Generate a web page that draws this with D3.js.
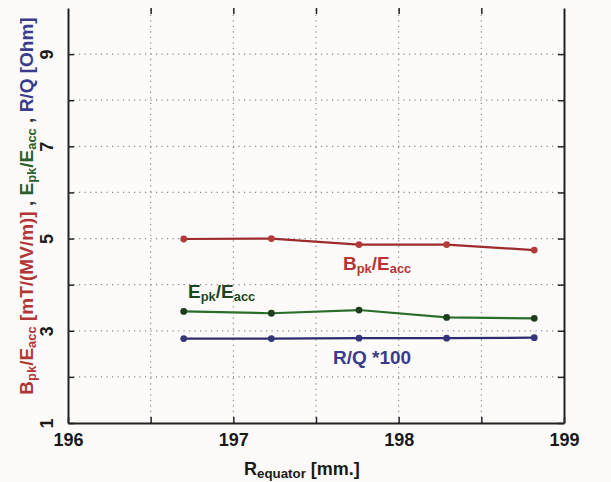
<!DOCTYPE html>
<html>
<head>
<meta charset="utf-8">
<script src="https://cdn.jsdelivr.net/npm/d3@7"></script>
<style>
  html, body { margin: 0; padding: 0; background: #fdfbfa; }
  svg { display: block; }
  text { font-family: "Liberation Sans", Arial, sans-serif; font-weight: bold; }
</style>
</head>
<body>
<svg id="chart" width="611" height="482"></svg>
<script>
// Equator radius (mm) for each simulated cavity geometry
const radius = [196.70, 197.23, 197.76, 198.29, 198.82];
// Peak magnetic field over accelerating gradient [mT/(MV/m)]
const bpkEacc = [4.99, 5.00, 4.87, 4.87, 4.75];
// Peak electric field over accelerating gradient
const epkEacc = [3.42, 3.38, 3.45, 3.29, 3.27];
// Shunt impedance R/Q, scaled by 1/100 [Ohm]
const rOverQ = [2.83, 2.83, 2.84, 2.84, 2.85];

const xTicks = [196, 196.5, 197, 197.5, 198, 198.5, 199];
const xTickLabels = ["196", "", "197", "", "198", "", "199"];
const yTicks = [1, 2, 3, 4, 5, 6, 7, 8, 9, 10];
const yTickLabels = ["1", "", "3", "", "5", "", "7", "", "9", ""];

const svg = d3.select("#chart");
const margin = { left: 68, right: 47, top: 8, bottom: 59 };
const W = 611, H = 482;

const x = d3.scaleLinear().domain([196, 199]).range([margin.left, W - margin.right]);
const y = d3.scaleLinear().domain([1, 10]).range([H - margin.bottom, margin.top]);

const gridColor = "#8a8a8a";

// dotted grid
svg.append("g").selectAll("line")
  .data(yTicks.filter(v => v > 1 && v < 10))
  .join("line")
  .attr("x1", x(196)).attr("x2", x(199))
  .attr("y1", d => y(d)).attr("y2", d => y(d))
  .attr("stroke", gridColor).attr("stroke-width", 1.2)
  .attr("stroke-dasharray", "1.2,4.3");

svg.append("g").selectAll("line")
  .data(xTicks.filter(v => v > 196 && v < 199))
  .join("line")
  .attr("x1", d => x(d)).attr("x2", d => x(d))
  .attr("y1", y(1)).attr("y2", y(10))
  .attr("stroke", gridColor).attr("stroke-width", 1.2)
  .attr("stroke-dasharray", "1.2,4.3");

// axes with inward ticks
const axisColor = "#222";
const gBottom = svg.append("g")
  .attr("transform", `translate(0,${y(1)})`)
  .call(d3.axisBottom(x).tickValues(xTicks).tickFormat((d, i) => xTickLabels[i])
    .tickSizeInner(-6).tickSizeOuter(0).tickPadding(10));
const gTop = svg.append("g")
  .attr("transform", `translate(0,${y(10)})`)
  .call(d3.axisTop(x).tickValues(xTicks.slice(1, -1)).tickFormat("")
    .tickSizeInner(-6).tickSizeOuter(0));
gTop.select(".domain").remove();
const gLeft = svg.append("g")
  .attr("transform", `translate(${x(196)},0)`)
  .call(d3.axisLeft(y).tickValues(yTicks.slice(0, -1)).tickFormat((d, i) => yTickLabels[i])
    .tickSizeInner(-6).tickSizeOuter(0).tickPadding(14));
const gRight = svg.append("g")
  .attr("transform", `translate(${x(199)},0)`)
  .call(d3.axisRight(y).tickValues(yTicks.slice(0, -1)).tickFormat("")
    .tickSizeInner(-6).tickSizeOuter(0));

[gBottom, gTop, gLeft, gRight].forEach(g => {
  g.selectAll(".domain").attr("stroke", axisColor).attr("stroke-width", 2);
  g.selectAll(".tick line").attr("stroke", axisColor).attr("stroke-width", 1.5);
  g.selectAll("text").attr("fill", "#1a1a1a").attr("font-size", 18)
    .attr("font-family", "Liberation Sans, Arial, sans-serif").attr("font-weight", "bold");
});
// y tick labels are set sideways
gLeft.selectAll(".tick text")
  .attr("x", null).attr("dy", null)
  .attr("text-anchor", "middle")
  .attr("transform", "translate(-21,0) rotate(-90)")
  .attr("dy", "0.35em");

// data series
const series = [
  { values: bpkEacc, line: "#9c2b2b", dot: "#b23a3a" },
  { values: epkEacc, line: "#2b6e2b", dot: "#1d3d1d" },
  { values: rOverQ, line: "#2c2c6e", dot: "#34347a" }
];
const lineGen = d3.line().x(d => x(d[0])).y(d => y(d[1]));
series.forEach(s => {
  const pts = radius.map((r, i) => [r, s.values[i]]);
  svg.append("path").datum(pts)
    .attr("d", lineGen).attr("fill", "none")
    .attr("stroke", s.line).attr("stroke-width", 2.2);
  svg.append("g").selectAll("circle").data(pts).join("circle")
    .attr("cx", d => x(d[0])).attr("cy", d => y(d[1])).attr("r", 3.4)
    .attr("fill", s.dot);
});

// text with subscripts
function richText(sel, parts, size, subRatio = 0.68) {
  parts.forEach(p => {
    const ts = sel.append("tspan").text(p.t).attr("fill", p.c);
    if (p.sub) ts.attr("font-size", size * subRatio).attr("baseline-shift", "-25%");
    else ts.attr("font-size", size);
  });
}

const red = "#b33636", green = "#2a5e2a", blue = "#3b3b8c";

richText(svg.append("text").attr("x", 343).attr("y", 270), [
  { t: "B", c: red }, { t: "pk", c: red, sub: true },
  { t: "/E", c: red }, { t: "acc", c: red, sub: true }
], 19);

richText(svg.append("text").attr("x", 188).attr("y", 298), [
  { t: "E", c: "#1f451f" }, { t: "pk", c: "#1f451f", sub: true },
  { t: "/E", c: "#1f451f" }, { t: "acc", c: "#1f451f", sub: true }
], 19);

svg.append("text").attr("x", 333).attr("y", 364)
  .attr("font-size", 19).attr("fill", blue).text("R/Q *100");

// x axis title
richText(svg.append("text").attr("x", 244).attr("y", 475), [
  { t: "R", c: "#1a1a1a" }, { t: "equator", c: "#1a1a1a", sub: true },
  { t: " [mm.]", c: "#1a1a1a" }
], 18, 0.74);

// y axis title, centred along the plot height
richText(svg.append("text").attr("text-anchor", "middle")
  .attr("transform", "translate(33,206) rotate(-90)"), [
  { t: "B", c: red }, { t: "pk", c: red, sub: true },
  { t: "/E", c: red }, { t: "acc", c: red, sub: true },
  { t: " [mT/(MV/m)]", c: red },
  { t: " , ", c: "#333" },
  { t: "E", c: green }, { t: "pk", c: green, sub: true },
  { t: "/E", c: green }, { t: "acc", c: green, sub: true },
  { t: " , ", c: "#333" },
  { t: "R/Q [Ohm]", c: blue }
], 19);
</script>
</body>
</html>
